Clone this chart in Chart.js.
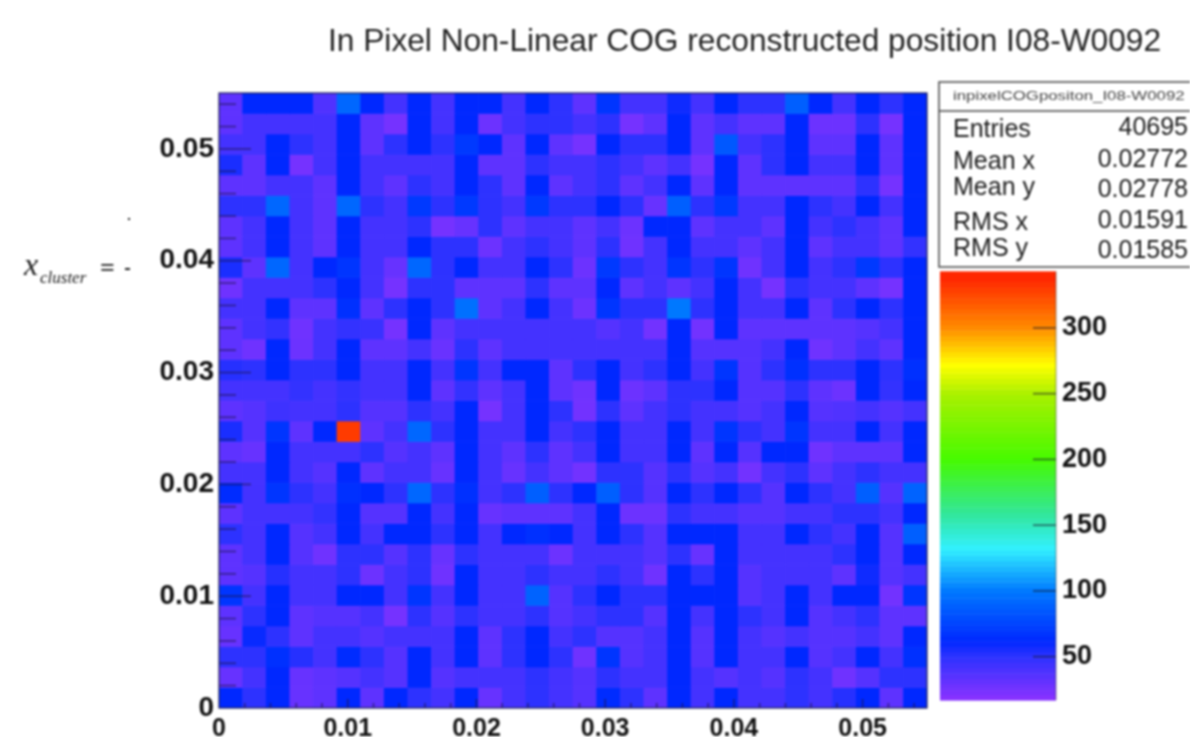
<!DOCTYPE html>
<html><head><meta charset="utf-8">
<script src="https://cdn.jsdelivr.net/npm/chart.js@4"></script>
<style>html,body{margin:0;padding:0;background:#fff}#w{width:1190px;height:737px;position:relative;overflow:hidden}canvas{display:block;filter:blur(.9px)}</style>
</head><body><div id="w"><canvas id="c" width="1190" height="737"></canvas></div>
<script>
const titleText = 'In Pixel Non-Linear COG reconstructed position I08-W0092';
const statsName = 'inpixelCOGpositon_I08-W0092';
const statsLabels = ['Entries','Mean x','Mean y','RMS x','RMS y'];
const statsValues = ['40695','0.02772','0.02778','0.01591','0.01585'];
const axisMax = 0.055, binCount = 30;
const row00=[33,62,62,62,38,92,62,42,62,42,62,62,42,62,50,33,68,42,42,58,42,62,50,50,88,62,42,62,50,62];
const row01=[33,42,42,42,42,62,33,25,62,42,62,28,42,50,50,42,50,25,33,62,33,42,33,33,62,28,28,50,25,62];
const row02=[42,42,62,50,42,62,33,50,62,50,70,62,33,62,33,25,62,50,50,62,33,85,42,50,62,33,33,62,33,62];
const row03=[55,33,62,25,42,62,42,42,42,42,62,33,33,50,42,42,50,42,33,42,25,62,33,50,62,42,42,62,33,62];
const row04=[33,33,42,42,33,62,42,33,50,42,62,50,33,62,33,42,50,33,42,62,33,62,33,33,33,33,33,50,25,62];
const row05=[50,50,92,42,33,92,50,42,70,50,70,50,42,70,50,50,62,50,30,88,50,70,42,42,62,50,42,62,42,62];
const row06=[33,42,62,42,33,62,42,42,50,25,30,50,33,42,42,33,42,28,62,62,33,42,42,33,62,42,50,42,33,62];
const row07=[33,42,62,42,33,62,42,42,62,50,50,28,42,50,42,33,50,27,42,62,42,42,33,42,62,33,42,42,33,48];
const row08=[55,33,92,42,62,68,42,30,92,50,62,42,42,62,50,28,70,50,42,68,50,68,27,42,62,42,50,70,50,62];
const row09=[27,42,42,42,50,62,42,25,50,50,33,33,33,50,33,33,62,33,42,33,42,62,42,25,50,42,42,33,25,62];
const row10=[42,42,62,33,33,66,33,50,62,50,96,33,42,62,42,28,68,50,50,100,50,62,42,42,62,33,50,62,50,62];
const row11=[33,42,48,27,42,48,46,25,62,33,42,42,42,42,42,42,36,42,26,62,26,62,33,33,33,33,33,36,42,62];
const row12=[33,27,62,28,42,62,33,33,42,29,50,33,42,42,42,42,42,42,42,62,36,36,36,42,62,27,33,42,33,62];
const row13=[52,50,62,50,50,62,42,42,62,42,68,42,62,62,33,50,62,42,50,62,42,68,36,50,66,50,50,62,50,66];
const row14=[42,42,42,48,42,48,42,42,62,33,48,33,42,62,33,27,62,28,33,50,50,62,36,36,50,33,28,62,48,62];
const row15=[33,36,44,42,42,50,36,36,50,42,62,25,42,62,50,26,50,33,42,50,42,42,36,42,62,36,38,42,36,42];
const row16=[55,36,68,33,62,330,33,42,92,50,62,42,42,62,42,50,62,42,42,62,42,68,50,42,68,42,42,62,42,62];
const row17=[33,30,62,42,42,42,50,36,42,33,62,42,33,50,33,42,62,42,42,62,33,62,36,62,62,27,33,33,33,62];
const row18=[42,42,62,42,36,62,33,42,42,30,62,42,30,42,33,26,50,50,36,50,36,42,26,42,50,33,42,50,42,42];
const row19=[64,42,68,50,42,66,62,50,92,50,66,42,50,88,50,62,88,50,36,62,50,62,50,36,62,50,42,88,36,90];
const row20=[33,42,42,42,48,62,36,36,62,42,62,30,33,33,33,42,62,28,28,50,42,42,36,36,42,42,50,50,42,62];
const row21=[50,42,62,36,42,62,42,62,62,50,62,42,62,66,62,42,62,50,36,62,62,62,42,42,62,50,42,62,36,88];
const row22=[33,42,62,36,27,50,50,36,50,30,50,42,42,42,28,42,42,42,36,50,30,62,42,42,42,42,50,62,36,62];
const row23=[33,36,52,42,42,50,28,42,50,27,62,42,42,50,42,42,50,42,27,62,50,62,36,42,42,42,33,58,36,42];
const row24=[68,42,62,42,42,62,62,42,68,42,62,42,42,90,36,50,62,50,50,62,62,62,36,42,62,42,62,62,26,68];
const row25=[33,50,62,33,36,36,42,25,50,36,50,42,42,50,36,42,50,50,36,62,42,62,50,42,62,36,42,50,33,33];
const row26=[30,60,50,33,42,42,36,42,42,42,62,33,50,62,42,50,36,36,42,62,36,62,42,36,42,36,36,42,33,62];
const row27=[50,50,66,52,42,64,50,36,62,42,62,33,50,62,50,27,68,36,42,62,36,62,42,42,62,36,42,62,42,66];
const row28=[30,42,62,30,33,36,42,36,62,36,42,42,42,50,42,36,50,42,42,62,42,36,42,36,50,42,27,36,50,50];
const row29=[62,50,62,30,33,62,33,62,50,42,62,30,42,50,42,36,64,50,33,62,42,62,42,42,50,42,52,62,33,62];
const rows=[row00,row01,row02,row03,row04,row05,row06,row07,row08,row09,row10,row11,row12,row13,row14,row15,row16,row17,row18,row19,row20,row21,row22,row23,row24,row25,row26,row27,row28,row29];
const paletteValues=[17,50,62,100,132,160,200,250,272,300,337];
const paletteColors=[[140,50,255],[45,50,255],[0,40,255],[0,120,255],[50,240,255],[50,230,150],[70,250,0],[170,240,0],[255,255,0],[255,140,0],[255,40,0]];
const zMin=17, zMax=343, zLevels=80;

function colorFor(v){
  if(v<=paletteValues[0]) return `rgb(${paletteColors[0]})`;
  for(let i=1;i<paletteValues.length;i++){
    if(v<=paletteValues[i]){
      const t=(v-paletteValues[i-1])/(paletteValues[i]-paletteValues[i-1]);
      const a=paletteColors[i-1],b=paletteColors[i];
      return `rgb(${a.map((q,k)=>Math.round(q+(b[k]-q)*t)).join(',')})`;
    }
  }
  return `rgb(${paletteColors[paletteColors.length-1]})`;
}
const binH=axisMax/binCount;
const binLabels=rows[0].map((_,i)=>String(i));
const datasets=rows.map((r,ri)=>{
  const lo=axisMax-(ri+1)*binH, hi=axisMax-ri*binH;
  return {data:r.map(()=>[lo,hi]),backgroundColor:r.map(colorFor),borderWidth:0,xAxisID:'xBins',yAxisID:'y',
          barPercentage:1,categoryPercentage:1,grouped:false};
});
function noPad(s){s.paddingTop=0;s.paddingBottom=0;s.paddingLeft=0;s.paddingRight=0;}
const overlay={id:'overlay',
  afterLayout(ch){ if(ch.titleBlock) ch.titleBlock.left=328; },
  afterDatasetsDraw(ch){
    const g=ch.ctx,a=ch.chartArea,sx=ch.scales.x,sy=ch.scales.y,sz=ch.scales.z;
    g.save();
    // inward minor / major tick marks on both axes
    g.strokeStyle='rgba(30,20,70,.6)';g.lineWidth=1.6;
    for(let k=1;k<=27;k++){
      const v=k*0.002, major=k%5===0;
      const yp=sy.getPixelForValue(v), xp=sx.getPixelForValue(v);
      g.beginPath();g.moveTo(a.left,yp);g.lineTo(a.left+(major?32:17),yp);g.stroke();
      g.beginPath();g.moveTo(xp,a.bottom);g.lineTo(xp,a.bottom-(major?9:5));g.stroke();
    }
    // frame
    g.strokeStyle='#1c1c50';g.lineWidth=1.2;g.strokeRect(a.left,a.top,a.right-a.left,a.bottom-a.top);
    // colour bar
    const bx=940,bw=116;
    const levH=(zMax-zMin)/zLevels;
    for(let i=0;i<zLevels;i++){
      const lo=zMin+i*levH,hi=lo+levH;
      const y1=sz.getPixelForValue(hi),y0=sz.getPixelForValue(lo);
      g.fillStyle=colorFor(lo+levH/2);
      g.fillRect(bx,y1,bw,y0-y1+.5);
    }
    g.strokeStyle='rgba(60,60,60,.55)';g.lineWidth=1;
    g.beginPath();g.moveTo(bx+bw,sz.getPixelForValue(zMax));g.lineTo(bx+bw,sz.getPixelForValue(zMin));g.stroke();
    g.strokeStyle='rgba(20,20,40,.6)';g.lineWidth=1.6;
    sz.ticks.forEach(t=>{const y=sz.getPixelForValue(t.value);g.beginPath();g.moveTo(bx+bw-23,y);g.lineTo(bx+bw,y);g.stroke();});
    // stats box
    g.fillStyle='#fff';g.fillRect(939,82,251,185);
    g.strokeStyle='#444';g.lineWidth=1.5;g.strokeRect(939,82,260,185);
    g.beginPath();g.moveTo(939,111);g.lineTo(1190,111);g.stroke();
    g.textBaseline='alphabetic';
    g.save();g.translate(953,100);g.scale(1.4,1);
    g.font='12px "Liberation Sans"';g.fillStyle='#444';g.textAlign='left';
    g.fillText(statsName,0,0);g.restore();
    g.font='25px "Liberation Sans"';g.fillStyle='#1c1c1c';
    const ly=[137,169,195,230,256],ry=[135,167,197,228,258];
    g.textAlign='left';statsLabels.forEach((s,i)=>g.fillText(s,953,ly[i]));
    g.textAlign='right';statsValues.forEach((s,i)=>g.fillText(s,1188,ry[i]));
    // cropped formula fragment
    g.fillStyle='#1c1c1c';g.textAlign='left';
    g.font='italic 32px "Liberation Serif"';g.fillText('x',24,275);
    g.font='italic 17px "Liberation Serif"';g.fillText('cluster',40,283);
    g.font='bold 26px "Liberation Serif"';g.fillText('=',100,276);
    g.fillRect(125,268,5,2);g.fillRect(128,218,2,2);
    g.restore();
  }};
new Chart(document.getElementById('c'),{
  type:'bar',
  data:{labels:binLabels,datasets},
  plugins:[overlay],
  options:{responsive:false,animation:false,
    layout:{padding:0},
    plugins:{legend:{display:false},tooltip:{enabled:false},
      title:{display:true,text:titleText,align:'start',color:'#222',
        font:{family:'"Liberation Sans"',size:31.7,weight:'normal',lineHeight:1.2},
        padding:{top:23,bottom:31.96}}},
    scales:{
      xBins:{type:'category',display:false,position:'bottom',offset:true,grid:{offset:true}},
      x:{type:'linear',position:'bottom',min:0,max:axisMax,offset:false,
        afterFit(s){s.height=29;noPad(s);},
        grid:{display:false,drawTicks:false},border:{display:false},
        ticks:{stepSize:0.01,autoSkip:false,includeBounds:false,maxRotation:0,padding:6,color:'#111',
          font:{family:'"Liberation Sans"',size:25,weight:'bold'},
          callback:v=>v===0?'0':v.toFixed(2)}},
      y:{type:'linear',position:'left',min:0,max:axisMax,offset:false,
        afterFit(s){s.width=219;noPad(s);},
        grid:{display:false,drawTicks:false},border:{display:false},
        ticks:{stepSize:0.01,autoSkip:false,includeBounds:false,padding:5,color:'#111',
          font:{family:'"Liberation Sans"',size:28,weight:'bold'},
          callback:v=>v===0?'0':v.toFixed(2)}},
      z:{type:'linear',position:'right',min:11,max:478.6,
        afterFit(s){s.width=263;noPad(s);},
        afterBuildTicks(s){s.ticks=s.ticks.filter(t=>t.value>=50&&t.value<=300);},
        grid:{display:false,drawTicks:false},border:{display:false},
        ticks:{stepSize:50,includeBounds:false,autoSkip:false,padding:135,color:'#111',
          font:{family:'"Liberation Sans"',size:27,weight:'bold'}}}
    }}
});
</script></body></html>
